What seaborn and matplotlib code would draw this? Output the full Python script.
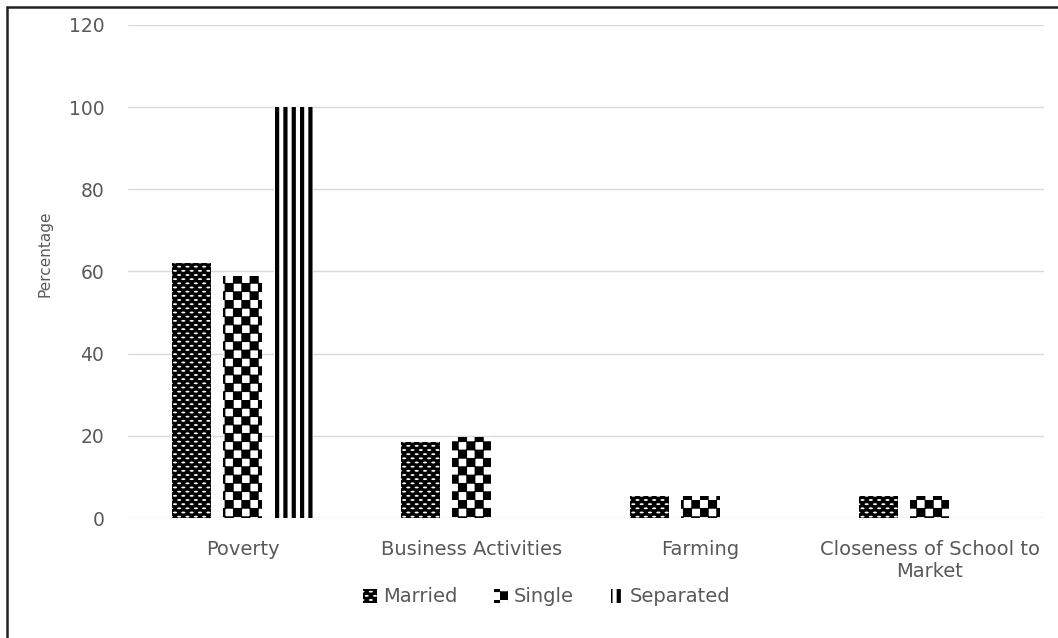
import numpy as np
import pandas as pd
import matplotlib
matplotlib.use("Agg")
import matplotlib.pyplot as plt
import matplotlib.hatch as mhatch
from matplotlib.path import Path
from matplotlib.patches import Patch
from matplotlib.lines import Line2D
import seaborn as sns

# ---- data ---------------------------------------------------------------
reasons = ["Poverty", "Business Activities", "Farming",
           "Closeness of School to\nMarket"]
statuses = ["Married", "Single", "Separated"]
married = [62, 18.6, 5.3, 5.3]
single = [59, 19.8, 5.4, 5.4]
separated = [100, 0, 0, 0]
y_ticks = [0, 20, 40, 60, 80, 100, 120]

df = pd.DataFrame({
    "reason": reasons * 3,
    "status": np.repeat(statuses, len(reasons)),
    "pct": married + single + separated,
})


# ---- fill patterns (one tile = one inch) --------------------------------
class _TileHatch(mhatch.HatchPatternBase):
    char = ""

    def __init__(self, hatch, density):
        polys = self.polygons() if hatch.count(self.char) else []
        verts, codes = [], []
        for p in polys:
            p = list(p)
            verts.extend(p + [p[0]])
            codes.extend([Path.MOVETO] + [Path.LINETO] * (len(p) - 1)
                         + [Path.CLOSEPOLY])
        self._verts = np.asarray(verts, float).reshape(-1, 2)
        self._codes = np.asarray(codes, dtype=Path.code_type)
        self.num_vertices = len(self._verts)

    def set_vertices_and_codes(self, vertices, codes):
        vertices[:] = self._verts
        codes[:] = self._codes


class Pebbles(_TileHatch):
    """Staggered rows of small flat ovals."""
    char = "o"

    def polygons(self):
        cols, rows = 12, 24
        t = np.linspace(0, 2 * np.pi, 14, endpoint=False)
        rx, ry = 0.021, 0.0095
        out = []
        for r in range(rows + 1):
            y = r / rows
            if r % 2 == 0:
                xs = (np.arange(cols) + 0.5) / cols
            else:
                xs = np.arange(cols + 1) / cols
            for x in xs:
                out.append(np.column_stack([x + rx * np.cos(t),
                                            y + ry * np.sin(t)]))
        return out


class Checker(_TileHatch):
    """Checkerboard squares."""
    char = "x"

    def polygons(self):
        n = 12
        s = 1 / n
        e = 0.004
        out = []
        for i in range(n):
            for j in range(n):
                if (i + j) % 2 == 0:
                    x0, y0 = i * s - e, j * s - e
                    out.append([(x0, y0), (x0 + s + 2 * e, y0),
                                (x0 + s + 2 * e, y0 + s + 2 * e),
                                (x0, y0 + s + 2 * e)])
        return out


class Stripes(_TileHatch):
    """Thick vertical stripes."""
    char = "|"

    def polygons(self):
        n, w = 12, 0.042
        out = []
        for i in range(n):
            x0 = i / n
            out.append([(x0, 0), (x0 + w, 0), (x0 + w, 1), (x0, 1)])
        return out


mhatch._hatch_types[:] = [Pebbles, Checker, Stripes]

# face colour, pattern colour, pattern code per status
styles = {
    "Married": ("black", "white", "o"),
    "Single": ("white", "black", "x"),
    "Separated": ("white", "black", "|"),
}

# ---- figure -------------------------------------------------------------
sns.set_theme(style="white")
plt.rcParams["font.family"] = ["DejaVu Sans"]
plt.rcParams["hatch.linewidth"] = 0.0
text_color = "#595959"

fig = plt.figure(figsize=(10.58, 6.38), dpi=100)
ax = fig.add_axes([0.121, 0.188, 0.866, 0.773])

sns.barplot(data=df, x="reason", y="pct", hue="status",
            hue_order=statuses, order=reasons, width=0.668, gap=0.24,
            palette=["black", "white", "white"], legend=False, ax=ax)

for container, status in zip(ax.containers, statuses):
    face, pat_color, pat = styles[status]
    for bar in container:
        bar.set_facecolor(face)
        bar.set_edgecolor(pat_color)
        bar.set_hatch(pat)
        bar.set_linewidth(0)

ax.set_ylim(0, 120)
ax.set_yticks(y_ticks)
ax.set_xlim(-0.5, len(reasons) - 0.5)
ax.yaxis.grid(True, color="#d9d9d9", linewidth=1.0)
ax.set_axisbelow(True)
for s in ax.spines.values():
    s.set_visible(False)
ax.tick_params(axis="y", length=0, pad=17, labelsize=13.5,
               labelcolor=text_color)
ax.tick_params(axis="x", length=0, pad=16, labelsize=14,
               labelcolor=text_color)
ax.set_xlabel("")
ax.set_ylabel("Percentage", fontsize=11, color=text_color)
ax.yaxis.set_label_coords(-0.082, 0.5355)

handles = []
for status in statuses:
    face, pat_color, pat = styles[status]
    handles.append(Patch(facecolor=face, edgecolor=pat_color, hatch=pat,
                         linewidth=0, label=status))
fig.legend(handles=handles, loc="center", ncol=3, frameon=False,
           bbox_to_anchor=(547 / 1058, 1 - 597 / 638),
           handlelength=0.7, handleheight=0.7, handletextpad=0.3,
           columnspacing=1.9, fontsize=14, labelcolor=text_color)

# outer frame on the top and left edges
fig.add_artist(Line2D([0.0068, 0.0068], [0, 0.9895], transform=fig.transFigure,
                      color="#222222", linewidth=1.8))
fig.add_artist(Line2D([0.0068, 1.0], [0.9895, 0.9895], transform=fig.transFigure,
                      color="#222222", linewidth=1.8))

fig.savefig("out.png", dpi=100, facecolor="white")
